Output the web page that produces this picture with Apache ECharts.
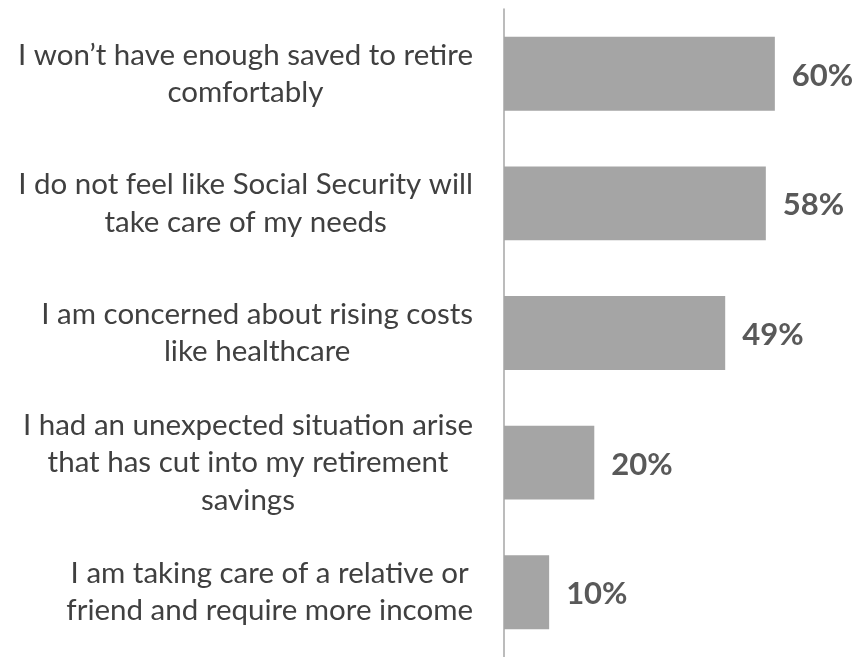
<!DOCTYPE html>
<html>
<head>
<meta charset="utf-8">
<style>
  html, body { margin: 0; padding: 0; background: #ffffff; }
  #chart { width: 861px; height: 657px; }
</style>
<script src="https://cdn.jsdelivr.net/npm/echarts@6/dist/echarts.min.js"></script>
</head>
<body>
<div id="chart"></div>
<script>
// Reasons given for retirement worries (share of respondents, %)
const categories = [
  "I won\u2019t have enough saved to retire\ncomfortably",
  "I do not feel like Social Security will\ntake care of my needs",
  "I am concerned about rising costs\nlike healthcare",
  "I had an unexpected situation arise\nthat has cut into my retirement\nsavings",
  "I am taking care of a relative or\nfriend and require more income"
];
const values = [60, 58, 49, 20, 10];

const FONT = 'Lato, "Open Sans", sans-serif';

const chart = echarts.init(document.getElementById('chart'));
chart.setOption({
  animation: false,
  backgroundColor: '#ffffff',
  grid: { left: 504, top: 9, width: 316, height: 651, containLabel: false },
  xAxis: {
    type: 'value',
    min: 0,
    max: 70,
    show: false
  },
  yAxis: {
    type: 'category',
    data: categories,
    inverse: true,
    axisLine: { show: true, lineStyle: { color: '#a6a6a6', width: 1.5 } },
    axisTick: { show: false },
    splitLine: { show: false },
    axisLabel: {
      margin: 31,
      align: 'right',
      color: '#404040',
      fontFamily: FONT,
      fontSize: 29.5,
      lineHeight: 37.5,
      // each line centred within the label block
      formatter: function (v) {
        return v.split('\n').map(function (s) { return '{c|' + s + '}'; }).join('\n');
      },
      rich: {
        c: {
          align: 'center',
          color: '#404040',
          fontFamily: FONT,
          fontSize: 29.5,
          lineHeight: 37.5
        }
      }
    }
  },
  series: [{
    type: 'bar',
    data: values,
    barCategoryGap: '43%',
    itemStyle: { color: '#a5a5a5' },
    label: {
      show: true,
      position: 'right',
      distance: 17,
      offset: [0, 2],
      formatter: '{c}%',
      color: '#595959',
      fontFamily: FONT,
      fontWeight: 'bold',
      fontSize: 31
    }
  }]
});
</script>
</body>
</html>
